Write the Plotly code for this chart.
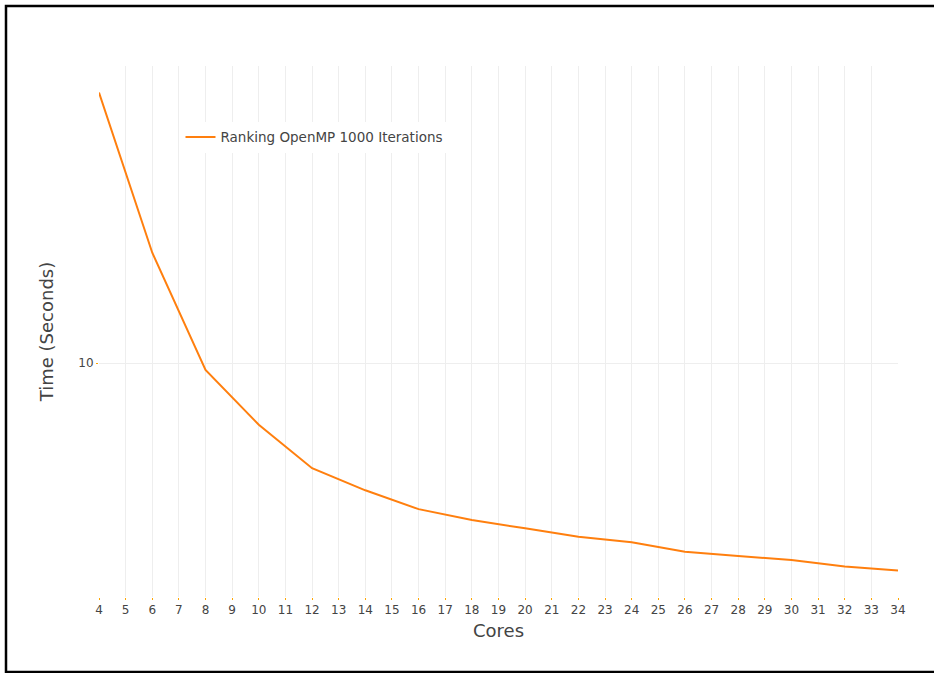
import plotly.graph_objects as go

# Wall-clock time of the OpenMP ranking run (1000 iterations) per core count
cores = [4, 6, 8, 10, 12, 14, 16, 18, 20, 22, 24, 26, 28, 30, 32, 34]
seconds = [20.0, 13.27, 9.83, 8.54, 7.64, 7.22, 6.88, 6.69, 6.55, 6.41,
           6.32, 6.17, 6.10, 6.04, 5.94, 5.88]
x_ticks = list(range(4, 35))
y_ticks = [10]

series_name = "Ranking OpenMP 1000 Iterations"
font_family = "DejaVu Sans, Verdana, sans-serif"
text_color = "#444444"
line_color = "#ff7f0e"
tick_color = "#ffa500"
grid_color = "#eeeeee"

fig = go.Figure()
fig.add_trace(go.Scatter(
    x=cores, y=seconds, mode="lines", name=series_name,
    line=dict(color=line_color, width=2),
))

fig.update_layout(
    width=934, height=673,
    margin=dict(l=99, r=36, t=66, b=76, pad=0),
    paper_bgcolor="white", plot_bgcolor="white",
    font=dict(family=font_family, size=12, color=text_color),
    showlegend=True,
    legend=dict(
        x=0.102, y=0.895, xanchor="left", yanchor="top",
        bgcolor="white", font=dict(size=13.5, color=text_color),
    ),
    xaxis=dict(
        title=dict(text="Cores", font=dict(size=18, color=text_color), standoff=7),
        tickmode="array", tickvals=x_ticks, ticktext=[str(v) for v in x_ticks],
        showgrid=True, gridcolor=grid_color, gridwidth=1,
        zeroline=False, showline=False,
        ticks="outside", ticklen=2, tickcolor=tick_color, tickwidth=1,
        tickfont=dict(size=12, color=text_color),
    ),
    yaxis=dict(
        type="log",
        title=dict(text="Time (Seconds)", font=dict(size=18, color=text_color), standoff=20),
        tickmode="array", tickvals=y_ticks, ticktext=[str(v) for v in y_ticks],
        showgrid=True, gridcolor=grid_color, gridwidth=1,
        zeroline=False, showline=False,
        ticks="outside", ticklen=2, tickcolor=tick_color, tickwidth=1,
        tickfont=dict(size=12, color=text_color),
    ),
)

# Black frame drawn around the whole figure
plot_w = 934 - 99 - 36
plot_h = 673 - 66 - 76
fig.add_shape(
    type="rect", xref="paper", yref="paper",
    x0=(6 - 99) / plot_w, x1=(945 - 99) / plot_w,
    y0=(673 - 76 - 672) / plot_h, y1=(673 - 76 - 6) / plot_h,
    line=dict(color="black", width=2.5), fillcolor="rgba(0,0,0,0)",
    layer="above",
)

fig.write_html("out.html")
